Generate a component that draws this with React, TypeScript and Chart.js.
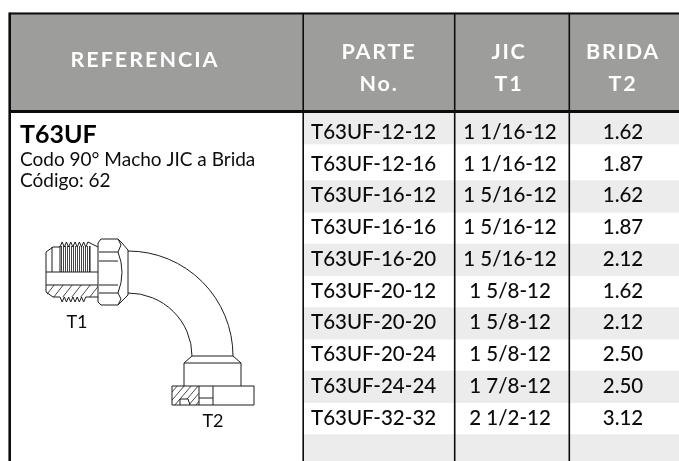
import React, { useEffect, useRef } from "react";
import { Chart, registerables } from "chart.js";

Chart.register(...registerables);

const headerTitles = ["REFERENCIA"];
const headerColumns = [
  { lines: ["PARTE", "No."], x: 379 },
  { lines: ["JIC", "T1"], x: 509 },
  { lines: ["BRIDA", "T2"], x: 623 },
];
const partNumbers = ["T63UF-12-12", "T63UF-12-16", "T63UF-16-12", "T63UF-16-16", "T63UF-16-20", "T63UF-20-12", "T63UF-20-20", "T63UF-20-24", "T63UF-24-24", "T63UF-32-32"];
const jicT1 = ["1 1/16-12", "1 1/16-12", "1 5/16-12", "1 5/16-12", "1 5/16-12", "1 5/8-12", "1 5/8-12", "1 5/8-12", "1 7/8-12", "2 1/2-12"];
const bridaT2 = ["1.62", "1.87", "1.62", "1.87", "2.12", "1.62", "2.12", "2.50", "2.50", "3.12"];
const shadedRowBands = [[-0.57, 0.41], [1.56, 2.56], [3.56, 4.56], [5.56, 6.56], [7.56, 8.56], [9.56, 10.39]];

const FONT = "Lato";
const INK = "#0c0c0c";
const HEADER = "#9d9d9c";
const STRIPE = "#ececec";

type P = [number, number];

const rules: { pts: P[]; w: number }[] = [
  { pts: [[9.7, 13.5], [679, 13.5]], w: 2 },
  { pts: [[9.7, 12.5], [9.7, 461]], w: 2.6 },
  { pts: [[9, 111.5], [679, 111.5]], w: 3 },
  { pts: [[303.2, 13], [303.2, 461]], w: 1.6 },
  { pts: [[454.7, 13], [454.7, 461]], w: 1.6 },
  { pts: [[569.3, 13], [569.3, 461]], w: 1.6 },
];

const zig = (x0: number, x1: number, step: number, a: number, b: number): P[] => {
  const out: P[] = [];
  let k = 0;
  for (let x = x0; x <= x1 + 0.01; x += step / 2) {
    out.push([x, k % 2 === 0 ? a : b]);
    k++;
  }
  return out;
};

const fittingPaths: P[][] = [
  [[53, 247], [46, 252], [46, 292], [53, 297], [60, 297]],
  [[53, 247], [60, 247]],
  [[60, 247], ...zig(60, 90, 4.3, 247, 242), [98, 247]],
  [[60, 297], ...zig(60, 86, 4.3, 297, 302), [98, 297]],
  [[52, 247], [52, 272]],
  [[60, 246], [60, 272]],
  [[90, 246], [90, 272]],
  [[46, 272], [98, 272]],
  [[46, 285], [98, 285]],
  [[98, 243], [101, 239], [118, 239], [122, 243], [128, 250], [128, 295], [122, 301], [118, 305], [101, 305], [98, 302], [98, 243]],
  [[99, 252], [118, 252]],
  [[99, 261], [118, 261]],
  [[99, 285], [118, 285]],
  [[99, 293], [118, 293]],
  [[118, 239], [121, 245], [118, 252]],
  [[118, 305], [121, 299], [118, 293]],
  [[192, 356], [233, 356]],
  [[192, 356], [184, 363], [184, 386]],
  [[233, 356], [241, 363], [241, 386]],
  [[184, 363], [241, 363]],
  [[172, 386], [254, 386], [254, 405], [172, 405], [172, 386]],
  [[199, 386], [199, 405]],
  [[213, 386], [213, 405]],
  [[199, 398], [213, 398]],
  [[180, 405], [180, 399], [188, 399], [190, 405]],
];

const tablePlugin = {
  id: "tableText",
  afterDatasetsDraw(chart: any) {
    const { ctx, scales } = chart;
    const X = (v: number) => scales.x.getPixelForValue(v);
    const Y = (v: number) => scales.y.getPixelForValue(v);
    const R = (v: number) => scales.r.getPixelForValue(v);

    const put = (t: string, x: number, y: number, font: string, color: string, align: CanvasTextAlign, ls = "0px") => {
      ctx.font = font;
      ctx.fillStyle = color;
      ctx.textAlign = align;
      ctx.textBaseline = "alphabetic";
      ctx.letterSpacing = ls;
      ctx.fillText(t, x, y);
      ctx.letterSpacing = "0px";
    };

    ctx.save();
    const hFont = `bold 21.5px ${FONT}`;
    put(headerTitles[0], X(145), Y(67), hFont, "#ffffff", "center", "2px");
    headerColumns.forEach((c) => {
      put(c.lines[0], X(c.x), Y(59), hFont, "#ffffff", "center", "1.8px");
      put(c.lines[1], X(c.x), Y(91), hFont, "#ffffff", "center", "1.8px");
    });

    const cellFont = `500 20.5px ${FONT}`;
    partNumbers.forEach((t, i) => {
      const base = R(i) + 8;
      put(t, X(311), base, cellFont, INK, "left");
      put(jicT1[i], X(510), base, cellFont, INK, "center");
      put(bridaT2[i], X(623), base, cellFont, INK, "center");
    });

    put("T63UF", X(20), Y(143), `bold 25px ${FONT}`, "#000000", "left");
    put("Codo 90° Macho JIC a Brida", X(20), Y(166), `19px ${FONT}`, INK, "left");
    put("Código: 62", X(20), Y(187), `19px ${FONT}`, INK, "left");
    put("T1", X(77), Y(328), `18px ${FONT}`, INK, "center");
    put("T2", X(213), Y(427), `18px ${FONT}`, INK, "center");

    const poly = (pts: P[]) => {
      ctx.beginPath();
      pts.forEach((p, i) => (i === 0 ? ctx.moveTo(X(p[0]), Y(p[1])) : ctx.lineTo(X(p[0]), Y(p[1]))));
      ctx.stroke();
    };

    ctx.lineJoin = "round";
    // thread shading
    ctx.strokeStyle = "#444444";
    ctx.lineWidth = 1;
    for (let x = 61.5; x < 90; x += 2) poly([[x, 246], [x, 272]]);

    // section hatching
    ctx.strokeStyle = "#333333";
    ctx.lineWidth = 0.9;
    ctx.save();
    ctx.beginPath();
    ctx.rect(X(47), Y(285), X(98) - X(47), Y(297) - Y(285));
    ctx.clip();
    for (let x = 44; x < 100; x += 9) poly([[x, 298], [x + 11, 284]]);
    ctx.restore();
    ctx.save();
    ctx.beginPath();
    ctx.rect(X(172), Y(386), X(199) - X(172), Y(405) - Y(386));
    ctx.clip();
    for (let x = 160; x < 200; x += 7) poly([[x, 406], [x + 18, 385]]);
    ctx.restore();
    ctx.fillStyle = "#ffffff";
    ctx.beginPath();
    ctx.moveTo(X(180), Y(405));
    ctx.lineTo(X(180), Y(399));
    ctx.lineTo(X(188), Y(399));
    ctx.lineTo(X(190), Y(405));
    ctx.closePath();
    ctx.fill();

    ctx.strokeStyle = "#1c1c1c";
    ctx.lineWidth = 1;
    fittingPaths.forEach(poly);

    // hex bulge
    ctx.beginPath();
    ctx.moveTo(X(118), Y(252));
    ctx.quadraticCurveTo(X(126), Y(272), X(118), Y(293));
    ctx.stroke();

    // elbow
    const cx = X(128), cy = Y(356);
    ctx.beginPath();
    ctx.ellipse(cx, cy, X(233) - cx, cy - Y(251), 0, -Math.PI / 2, 0);
    ctx.stroke();
    ctx.beginPath();
    ctx.ellipse(cx, cy, X(192) - cx, cy - Y(293), 0, -Math.PI / 2, 0);
    ctx.stroke();
    ctx.restore();
  },
};

export default function App() {
  const ref = useRef<HTMLCanvasElement | null>(null);
  useEffect(() => {
    document.body.style.margin = "0";
    const chart = new Chart(ref.current as HTMLCanvasElement, {
      type: "bar",
      data: {
        datasets: [
          {
            type: "bar",
            label: "header",
            data: [{ x: 344.5, y: [13, 112] }] as any,
            backgroundColor: HEADER,
            barThickness: 670,
            yAxisID: "y",
            order: 3,
          },
          {
            type: "bar",
            label: "stripes",
            data: shadedRowBands.map((b) => ({ x: 491, y: b })) as any,
            backgroundColor: STRIPE,
            barThickness: 376,
            yAxisID: "r",
            order: 2,
            grouped: false,
          },
          ...rules.map((rule, i) => ({
            type: "line" as const,
            label: `rule${i}`,
            data: rule.pts.map(([x, y]) => ({ x, y })),
            borderColor: INK,
            borderWidth: rule.w,
            pointRadius: 0,
            yAxisID: "y",
            order: 1,
          })),
        ],
      },
      options: {
        responsive: false,
        animation: false,
        layout: { padding: 0 },
        plugins: { legend: { display: false }, tooltip: { enabled: false }, title: { display: false } },
        scales: {
          x: { type: "linear", min: 0, max: 679, display: false, offset: false },
          y: { type: "linear", min: 0, max: 461, reverse: true, display: false },
          r: { type: "linear", min: -4.126, max: 10.394, reverse: true, display: false },
        },
      } as any,
      plugins: [tablePlugin],
    });
    return () => chart.destroy();
  }, []);
  return <canvas ref={ref} width={679} height={461} style={{ display: "block" }} />;
}
